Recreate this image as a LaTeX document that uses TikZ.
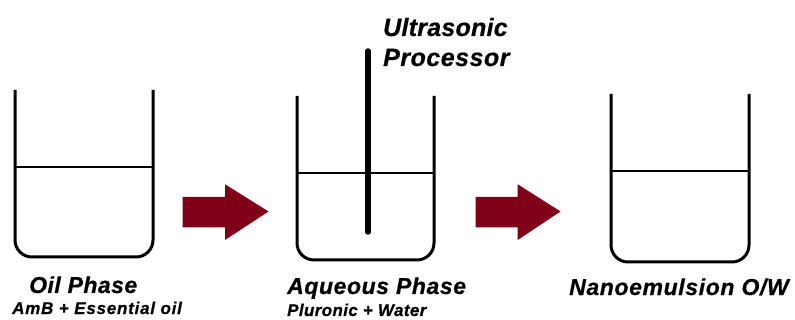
\documentclass[tikz,border=0pt]{standalone}
\usepackage{fontspec}
\setmainfont{Liberation Sans}
\definecolor{arrowred}{RGB}{128,0,24}
\tikzset{
  beaker/.style={line width=3pt, rounded corners=17pt, line join=round},
  liquid/.style={line width=2.6pt},
  probe/.style={line width=5.5pt, line cap=round},
  blockarrow/.style={fill=arrowred, draw=none},
  lbl/.style={inner sep=0pt, anchor=base west},
}
\newcommand{\lbltext}[3]{\bfseries\itshape\fontsize{#1}{#1}\selectfont\addfontfeature{LetterSpace=#2,FakeBold=0.6}#3}
\begin{document}
\begin{tikzpicture}[x=1pt,y=-1pt]
\useasboundingbox (0,0) rectangle (795,320);
% beaker 1
\draw[beaker] (15,90) -- (15,257) -- (153,257) -- (153,90);
\draw[liquid] (15,167) -- (153,167);
% beaker 2
\draw[beaker] (297,96) -- (297,260) -- (434,260) -- (434,96);
\draw[liquid] (297,173) -- (434,173);
\draw[probe] (368,51) -- (368,232);
% beaker 3
\draw[beaker] (611,94) -- (611,262) -- (749,262) -- (749,94);
\draw[liquid] (611,171) -- (749,171);
% arrows
\fill[blockarrow] (182.5,197) -- (225,197) -- (225,184.3) -- (268.5,211.5) -- (225,240) -- (225,227.5) -- (182.5,227.5) -- cycle;
\fill[blockarrow] (475.7,197) -- (517.7,197) -- (517.7,184.3) -- (560.5,211.5) -- (517.7,240) -- (517.7,227.5) -- (475.7,227.5) -- cycle;
% labels
\node[lbl] (ultra) at (383,36) {\lbltext{25}{1}{Ultrasonic}};
\node[lbl] (proc) at (383,66) {\lbltext{25}{2}{Processor}};
\node[lbl] (oil) at (29,293) {\lbltext{23}{2}{Oil Phase}};
\node[lbl] (oilsub) at (12,314) {\lbltext{17}{4.5}{AmB + Essential oil}};
\node[lbl] (aq) at (287,294) {\lbltext{23}{2.5}{Aqueous Phase}};
\node[lbl] (aqsub) at (287,316) {\lbltext{17}{2.2}{Pluronic + Water}};
\node[lbl] (nano) at (569,295) {\lbltext{23}{2.7}{Nanoemulsion O/W}};
\end{tikzpicture}
\end{document}
